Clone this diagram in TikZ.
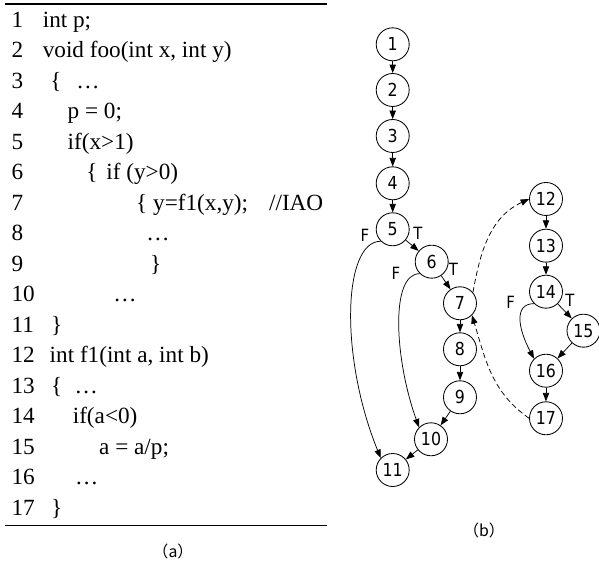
\documentclass[tikz,border=0pt]{standalone}
\usepackage{fontspec}
\setmainfont{Liberation Serif}
\newfontfamily\nodefont[FakeStretch=0.88]{DejaVu Sans}
\newfontfamily\cjkfont{Noto Sans CJK SC}
\usetikzlibrary{arrows.meta, positioning}

\begin{document}
\begin{tikzpicture}[
    codeline/.style={
        anchor=base west, inner sep=0pt,
        font=\fontsize{22}{24}\selectfont
    },
    lineno/.style={codeline},
    stmt/.style={
        circle, draw=black, line width=0.8pt,
        minimum size=1.1cm, inner sep=0pt,
        font=\nodefont\fontsize{17}{18}\selectfont
    },
    branch/.style={font=\nodefont\fontsize{16}{17}\selectfont, inner sep=0pt},
    caption/.style={font=\cjkfont\fontsize{15}{16}\selectfont, inner sep=0pt},
    arrow/.style={-{Triangle[length=8pt, width=6pt]}, line width=0.7pt},
    callarrow/.style={arrow, dash pattern=on 5pt off 3pt}
]
\useasboundingbox (0,0) rectangle (19.967,-18.733);

% --- (a) source listing ---
\draw[line width=1.4pt] (0.17,-0.13) -- (10.9,-0.13);

\node[lineno] (k1)  at (0.38,-0.91)   {1};
\node[lineno] (k2)  at (0.38,-1.927)  {2};
\node[lineno] (k3)  at (0.38,-2.943)  {3};
\node[lineno] (k4)  at (0.38,-3.96)   {4};
\node[lineno] (k5)  at (0.38,-4.977)  {5};
\node[lineno] (k6)  at (0.38,-5.993)  {6};
\node[lineno] (k7)  at (0.38,-7.01)   {7};
\node[lineno] (k8)  at (0.38,-8.027)  {8};
\node[lineno] (k9)  at (0.38,-9.043)  {9};
\node[lineno] (k10) at (0.38,-10.06)  {10};
\node[lineno] (k11) at (0.38,-11.077) {11};
\node[lineno] (k12) at (0.38,-12.093) {12};
\node[lineno] (k13) at (0.38,-13.11)  {13};
\node[lineno] (k14) at (0.38,-14.127) {14};
\node[lineno] (k15) at (0.38,-15.143) {15};
\node[lineno] (k16) at (0.38,-16.16)  {16};
\node[lineno] (k17) at (0.38,-17.177) {17};

\node[codeline] (c1)  at (1.42,-0.91)   {int p;};
\node[codeline] (c2)  at (1.42,-1.927)  {void foo(int x, int y)};
\node[codeline] (c3)  at (1.67,-2.943)  {\{\hspace{0.5cm}…};
\node[codeline] (c4)  at (2.25,-3.96)   {p = 0;};
\node[codeline] (c5)  at (2.25,-4.977)  {if(x>1)};
\node[codeline] (c6)  at (2.87,-5.993)  {\{\hspace{0.3cm}if (y>0)};
\node[codeline] (c7)  at (4.53,-7.01)   {\{\hspace{0.2cm}y=f1(x,y);\hspace{0.7cm}//IAO};
\node[codeline] (c8)  at (4.87,-8.027)  {…};
\node[codeline] (c9)  at (5.0,-9.043)   {\}};
\node[codeline] (c10) at (3.77,-10.06)  {…};
\node[codeline] (c11) at (1.70,-11.077) {\}};
\node[codeline] (c12) at (1.65,-12.093) {int f1(int a, int b)};
\node[codeline] (c13) at (1.70,-13.11)  {\{\hspace{0.41cm}…};
\node[codeline] (c14) at (2.42,-14.127) {if(a<0)};
\node[codeline] (c15) at (3.30,-15.143) {a = a/p;};
\node[codeline] (c16) at (2.50,-16.16)  {…};
\node[codeline] (c17) at (1.70,-17.177) {\}};

\draw[line width=1.4pt] (0.17,-17.517) -- (10.9,-17.517);
\node[caption] (capa) at (5.767,-18.367) {（a）};

% --- (b) control flow graph: foo ---
\node[stmt] (n1)  at (13.09,-1.477)  {1};
\node[stmt] (n2)  at (13.09,-3.0)    {2};
\node[stmt] (n3)  at (13.09,-4.533)  {3};
\node[stmt] (n4)  at (13.09,-6.11)   {4};
\node[stmt] (n5)  at (13.09,-7.643)  {5};
\node[stmt] (n6)  at (14.39,-8.723)  {6};
\node[stmt] (n7)  at (15.333,-10.11) {7};
\node[stmt] (n8)  at (15.333,-11.643) {8};
\node[stmt] (n9)  at (15.333,-13.243) {9};
\node[stmt] (n10) at (14.367,-14.643) {10};
\node[stmt] (n11) at (13.09,-15.667) {11};

% --- f1 ---
\node[stmt] (n12) at (18.2,-6.633)   {12};
\node[stmt] (n13) at (18.2,-8.19)    {13};
\node[stmt] (n14) at (18.2,-9.723)   {14};
\node[stmt] (n15) at (19.45,-11.023) {15};
\node[stmt] (n16) at (18.2,-12.357)  {16};
\node[stmt] (n17) at (18.2,-13.943)  {17};

\draw[arrow] (n1) -- (n2);
\draw[arrow] (n2) -- (n3);
\draw[arrow] (n3) -- (n4);
\draw[arrow] (n4) -- (n5);
\draw[arrow] (n5) -- (n6);
\draw[arrow] (n6) -- (n7);
\draw[arrow] (n7) -- (n8);
\draw[arrow] (n8) -- (n9);
\draw[arrow] (n9) -- (n10);
\draw[arrow] (n10) -- (n11);
\draw[arrow] (n5.225) .. controls +(-1.27,0) and +(-1.37,3.37) .. (n11.135);
\draw[arrow] (n6.225) .. controls +(-1.0,0) and +(-0.81,2.25) .. (n10.135);

\draw[arrow] (n12) -- (n13);
\draw[arrow] (n13) -- (n14);
\draw[arrow] (n14) -- (n15);
\draw[arrow] (n15) -- (n16);
\draw[arrow] (n16) -- (n17);
\draw[arrow] (n14.225) .. controls +(-0.67,0) and +(-0.54,1.03) .. (n16.135);

% call and return
\draw[callarrow] (n7.40) to[out=80, in=205] (n12.west);
\draw[callarrow] (n17.west) to[out=145, in=-73] (n7.-45);

% --- branch labels ---
\node[branch] (f5)  at (12.167,-7.833) {F};
\node[branch] (t5)  at (13.933,-7.767) {T};
\node[branch] (f6)  at (13.2,-9.1)     {F};
\node[branch] (t6)  at (15.117,-8.967) {T};
\node[branch] (f14) at (17.023,-10.077) {F};
\node[branch] (t14) at (19.0,-10.017)  {T};

\node[caption] (capb) at (16.133,-17.667) {（b）};

\end{tikzpicture}
\end{document}
